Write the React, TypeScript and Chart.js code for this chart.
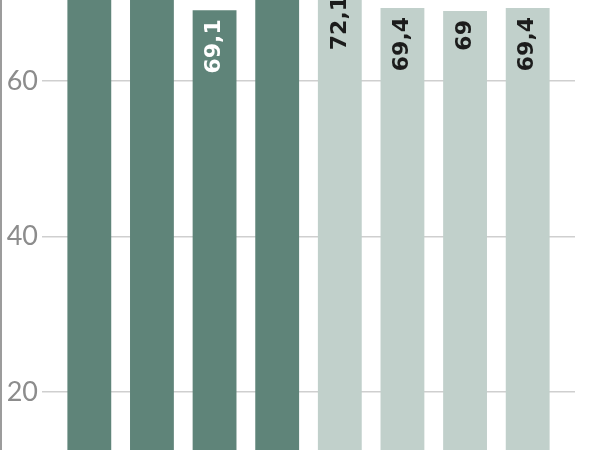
import React, { useEffect, useRef } from 'react';
import { Chart, registerables } from 'chart.js';

Chart.register(...registerables);

// data (bars 1, 2 and 4 run past the top, their values are guesses)
const categories = ['A1', 'A2', 'A3', 'A4', 'B1', 'B2', 'B3', 'B4'];
const values = [80.6, 79.8, 69.1, 81.2, 72.1, 69.4, 69, 69.4];
const barColors = ['#5f8479', '#5f8479', '#5f8479', '#5f8479', '#c1d0cb', '#c1d0cb', '#c1d0cb', '#c1d0cb'];
const labelColors = ['#ffffff', '#ffffff', '#ffffff', '#ffffff', '#1c1c1c', '#1c1c1c', '#1c1c1c', '#1c1c1c'];
const yTicks = [20, 40, 60];

const fmt = (v: number) => String(v).replace('.', ',');

// value written upright inside the top of every bar
const barLabels = {
  id: 'barLabels',
  afterDatasetsDraw(chart: any) {
    const { ctx } = chart;
    const meta = chart.getDatasetMeta(0);
    ctx.save();
    ctx.font = 'bold 22px "DejaVu Sans"';
    ctx.textAlign = 'right';
    ctx.textBaseline = 'middle';
    meta.data.forEach((bar: any, i: number) => {
      ctx.save();
      ctx.translate(bar.x, bar.y + 9);
      ctx.rotate(-Math.PI / 2);
      ctx.fillStyle = labelColors[i];
      ctx.fillText(fmt(values[i]), 0, 0);
      ctx.restore();
    });
    ctx.restore();
  },
};

const noEdgePadding = (axis: any) => {
  axis.paddingTop = 0;
  axis.paddingBottom = 0;
};

const App = () => {
  const chartRef = useRef<HTMLCanvasElement>(null);

  useEffect(() => {
    const ctx = chartRef.current!.getContext('2d')!;
    const c = new Chart(ctx, {
      type: 'bar',
      data: {
        labels: categories,
        datasets: [
          {
            data: values,
            backgroundColor: barColors,
            borderWidth: 0,
            categoryPercentage: 1,
            barPercentage: 0.7,
          },
        ],
      },
      options: {
        responsive: false,
        animation: false,
        layout: { padding: { left: 0, right: 25, top: 0, bottom: 0 } },
        plugins: {
          legend: { display: false },
          tooltip: { enabled: false },
        },
        scales: {
          x: { display: false },
          y: {
            min: 12.54,
            max: 70.42,
            afterBuildTicks: (axis: any) => {
              axis.ticks = yTicks.map((v) => ({ value: v }));
            },
            afterFit: (axis: any) => {
              axis.width = 56;
              noEdgePadding(axis);
            },
            border: { display: false },
            grid: { color: '#cfcfcf', lineWidth: 1.5, tickLength: 16, tickColor: '#cfcfcf' },
            ticks: {
              padding: 4,
              color: '#8c8c8c',
              font: { family: 'Lato', size: 27, weight: 400 },
            },
          },
          y2: {
            position: 'right',
            min: 12.54,
            max: 70.42,
            afterBuildTicks: (axis: any) => {
              axis.ticks = yTicks.map((v) => ({ value: v }));
            },
            afterFit: (axis: any) => {
              axis.width = 16;
              noEdgePadding(axis);
            },
            border: { display: false },
            grid: { drawOnChartArea: false, tickLength: 16, tickColor: '#cfcfcf', lineWidth: 1.5 },
            ticks: { display: false },
          },
        },
      },
      plugins: [barLabels],
    });
    return () => {
      c.destroy();
    };
  }, []);

  return (
    <div
      style={{
        position: 'absolute',
        left: 0,
        top: 0,
        width: 598,
        height: 450,
        background: '#fff',
        borderLeft: '2px solid #9c9c9c',
      }}
    >
      <canvas ref={chartRef} width={598} height={450} />
    </div>
  );
};

export default App;
